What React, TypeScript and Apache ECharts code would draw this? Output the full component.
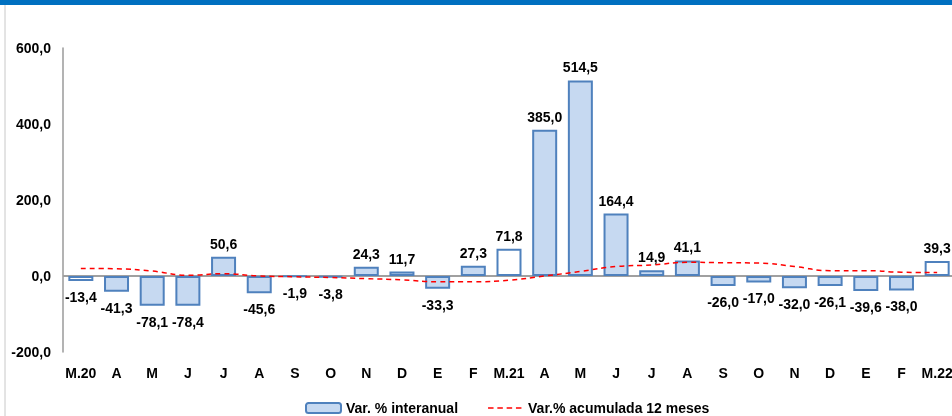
import React, { useEffect, useRef } from "react";
import * as echarts from "echarts";

const categories = ["M.20", "A", "M", "J", "J", "A", "S", "O", "N", "D", "E", "F", "M.21", "A", "M", "J", "J", "A", "S", "O", "N", "D", "E", "F", "M.22"];
const interanual = [-13.4, -41.3, -78.1, -78.4, 50.6, -45.6, -1.9, -3.8, 24.3, 11.7, -33.3, 27.3, 71.8, 385.0, 514.5, 164.4, 14.9, 41.1, -26.0, -17.0, -32.0, -26.1, -39.6, -38.0, 39.3];
const acumulada12 = [20, 19, 13, 2, 6, 0, -2, -4, -7, -10, -15, -15, -11, 0, 12, 25, 29, 36, 35, 34, 25, 14, 14, 10, 9];
const marchIndexes = [0, 12, 24];
const seriesNames = ["Var. % interanual", "Var.% acumulada 12 meses"];

const fmt = (v: number) => v.toFixed(1).replace(".", ",");
const FONT = "'Liberation Sans', Arial, sans-serif";
const DASH_ICON =
  "path://M0,0h0.05v0.05h-0.05z M0,4.2h5.5v1.6h-5.5z M9.3,4.2h5.5v1.6h-5.5z M18.6,4.2h5.5v1.6h-5.5z M27.9,4.2h5.5v1.6h-5.5z M34.95,9.95h0.05v0.05h-0.05z";

export default function App() {
  const ref = useRef<HTMLDivElement>(null);
  useEffect(() => {
    if (!ref.current) return;
    const chart = echarts.init(ref.current, null, { renderer: "svg" });
    const barData = interanual.map((v, i) => {
      const item: any = {
        value: v,
        label: { position: v >= 0 ? "top" : "bottom", distance: v >= 0 ? 6 : 9 },
      };
      if (marchIndexes.includes(i)) item.itemStyle = { color: "#FFFFFF" };
      return item;
    });
    chart.setOption({
      animation: false,
      textStyle: { fontFamily: FONT },
      graphic: [
        { type: "rect", shape: { x: 0, y: 0, width: 960, height: 5 }, style: { fill: "#0070C0" }, z: 100 },
        { type: "line", shape: { x1: 5, y1: 5, x2: 5, y2: 416 }, style: { stroke: "#C8C8C8", lineWidth: 1 } },
      ],
      grid: { left: 63, right: 5, top: 48, bottom: 64 },
      legend: {
        left: 300,
        top: 396,
        itemWidth: 35,
        itemHeight: 10,
        itemGap: 30,
        textStyle: { fontFamily: FONT, fontSize: 14, fontWeight: "bold", color: "#000" },
        data: [
          { name: seriesNames[0] },
          { name: seriesNames[1], icon: DASH_ICON, itemStyle: { color: "#FF0000", borderWidth: 0 } },
        ],
      },
      xAxis: {
        type: "category",
        data: categories,
        axisLine: { show: false, onZero: false },
        axisTick: { show: false },
        axisLabel: { color: "#000", fontSize: 14, fontWeight: "bold", fontFamily: FONT, margin: 14, interval: 0 },
      },
      yAxis: {
        type: "value",
        min: -200,
        max: 600,
        interval: 200,
        axisLine: { show: true, lineStyle: { color: "#9A9A9A", width: 1.5 } },
        axisTick: { show: false },
        splitLine: { show: false },
        axisLabel: { color: "#000", fontSize: 14, fontWeight: "bold", fontFamily: FONT, margin: 12, formatter: (v: number) => fmt(v) },
      },
      series: [
        {
          name: seriesNames[0],
          type: "bar",
          data: barData,
          barWidth: 25,
          itemStyle: { color: "#C6D9F1", borderColor: "#4F81BD", borderWidth: 2 },
          label: {
            show: true,
            color: "#000",
            fontSize: 14,
            fontWeight: "bold",
            fontFamily: FONT,
            formatter: (p: any) => fmt(p.value),
          },
          markLine: {
            silent: true,
            symbol: ["none", "none"],
            label: { show: false },
            lineStyle: { color: "#A0A0A0", type: "solid", width: 2 },
            data: [{ yAxis: 0 }],
            z: 1,
          },
          z: 2,
        },
        {
          name: seriesNames[1],
          type: "line",
          data: acumulada12,
          smooth: true,
          symbol: "none",
          lineStyle: { color: "#FF0000", width: 1.5, type: [5, 4] },
          itemStyle: { color: "#FF0000" },
          z: 3,
        },
      ],
    });
    return () => chart.dispose();
  }, []);
  return <div ref={ref} style={{ position: "fixed", left: 0, top: 0, width: 960, height: 416 }} />;
}
